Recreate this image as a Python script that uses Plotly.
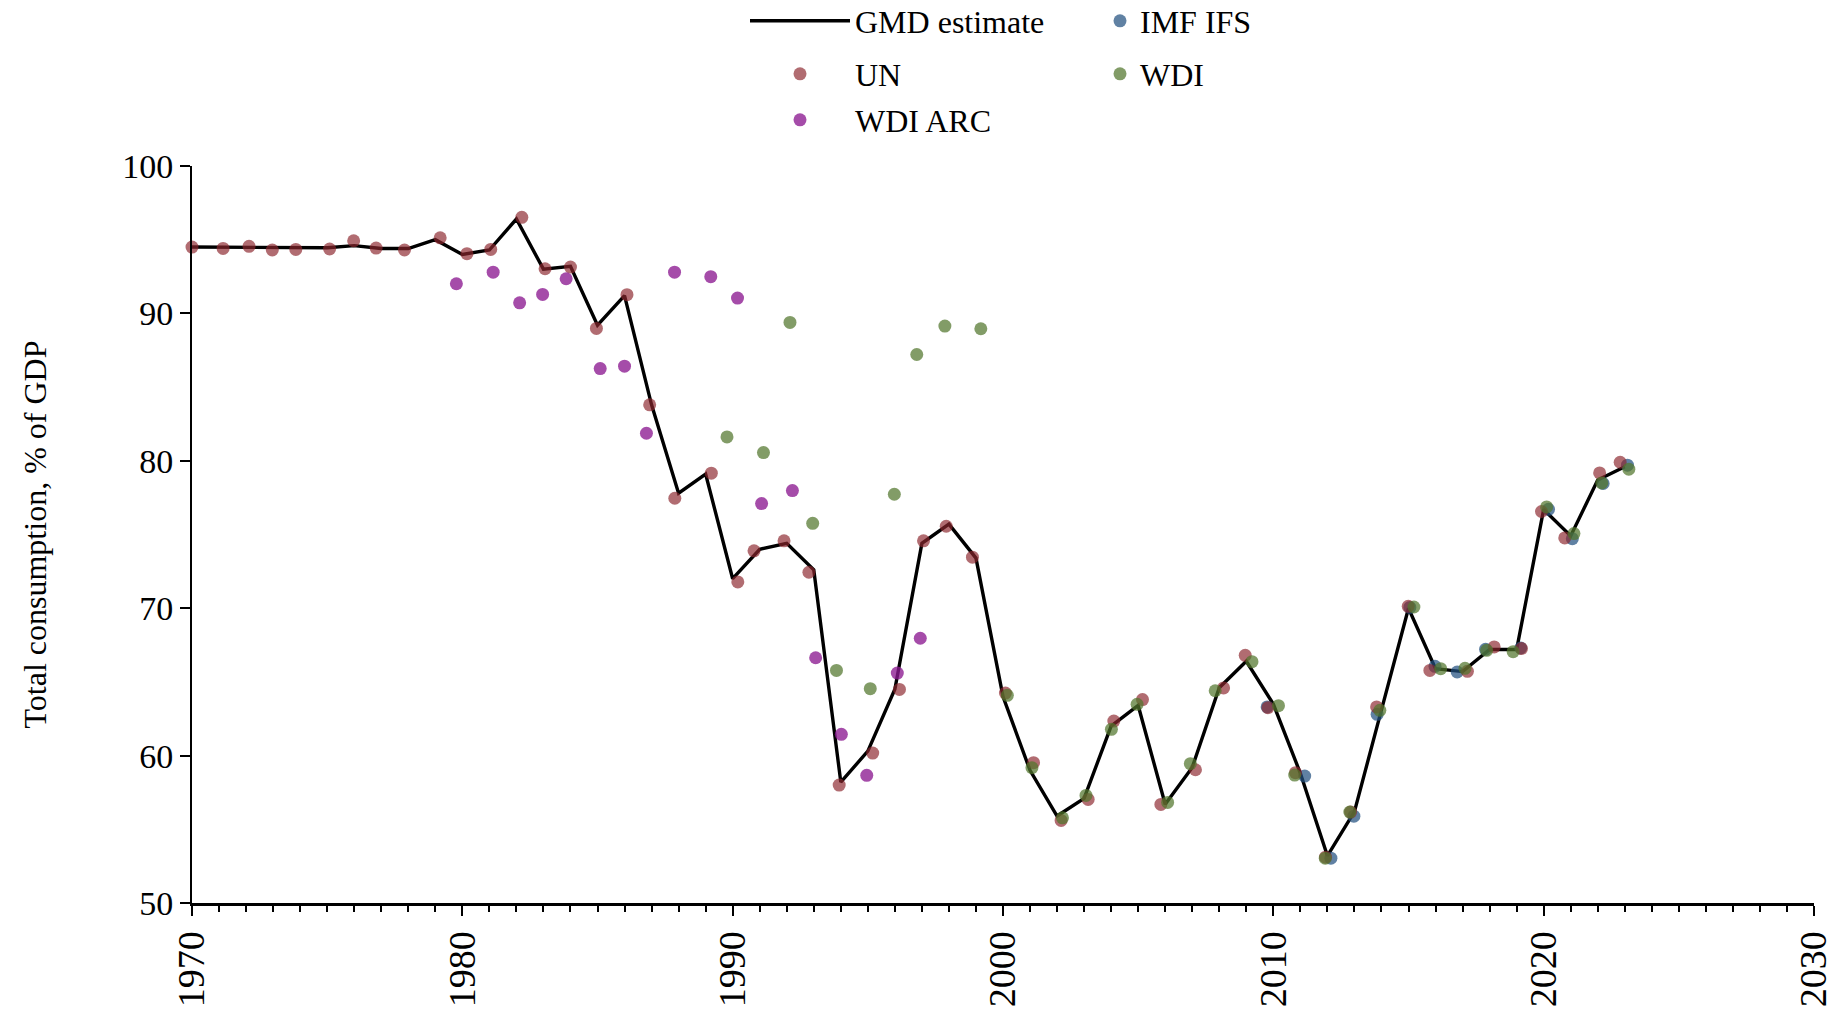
import plotly.graph_objects as go

# ---------------- data ----------------
gmd_years = [1970, 1971, 1972, 1973, 1974, 1975, 1976, 1977, 1978, 1979,
             1980, 1981, 1982, 1983, 1984, 1985, 1986, 1987, 1988, 1989,
             1990, 1991, 1992, 1993, 1994, 1995, 1996, 1997, 1998, 1999,
             2000, 2001, 2002, 2003, 2004, 2005, 2006, 2007, 2008, 2009,
             2010, 2011, 2012, 2013, 2014, 2015, 2016, 2017, 2018, 2019,
             2020, 2021, 2022, 2023]
gmd_values = [94.5, 94.5, 94.5, 94.45, 94.45, 94.45, 94.6, 94.4, 94.4, 95.0,
              94.0, 94.3, 96.4, 93.0, 93.2, 89.2, 91.2, 83.8, 77.8, 79.1,
              72.0, 74.0, 74.4, 72.6, 58.2, 60.3, 64.5, 74.4, 75.7, 73.4,
              64.0, 59.0, 55.9, 57.1, 62.0, 63.4, 56.7, 59.2, 64.6, 66.4,
              63.5, 58.8, 53.2, 56.2, 63.1, 70.0, 65.9, 65.7, 67.2, 67.2,
              76.7, 74.9, 78.7, 79.6]

imf_x = [2009.77, 2011.16, 2012.13, 2012.98, 2013.84, 2015.05, 2015.98,
         2016.80, 2017.85, 2019.15, 2020.18, 2021.06, 2022.20, 2023.10]
imf_y = [63.3, 58.61, 53.04, 55.89, 62.80, 70.05, 66.06,
         65.67, 67.21, 67.3, 76.71, 74.72, 78.46, 79.70]

un_x = [1970.0, 1971.15, 1972.11, 1972.97, 1973.84, 1975.09, 1975.98, 1976.81,
        1977.86, 1979.18, 1980.17, 1981.05, 1982.20, 1983.06, 1984.00, 1984.96,
        1986.09, 1986.93, 1987.86, 1989.21, 1990.19, 1990.79, 1991.90, 1992.82,
        1993.94, 1995.18, 1996.17, 1997.06, 1997.90, 1998.87, 2000.09, 2001.13,
        2002.15, 2003.15, 2004.10, 2005.16, 2005.84, 2007.12, 2008.16, 2008.96,
        2009.80, 2010.82, 2011.93, 2012.86, 2013.82, 2014.99, 2015.79, 2017.18,
        2018.17, 2019.18, 2019.92, 2020.78, 2022.07, 2022.83]
un_y = [94.50, 94.41, 94.55, 94.30, 94.34, 94.37, 94.93, 94.43,
        94.30, 95.13, 94.05, 94.34, 96.52, 93.03, 93.14, 88.98,
        91.27, 83.80, 77.46, 79.16, 71.78, 73.89, 74.57, 72.44,
        58.00, 60.17, 64.49, 74.57, 75.56, 73.46, 64.24, 59.52,
        55.60, 57.03, 62.34, 63.80, 56.69, 59.04, 64.59, 66.80,
        63.25, 58.84, 53.11, 56.17, 63.30, 70.13, 65.78, 65.72,
        67.37, 67.26, 76.56, 74.77, 79.18, 79.90]

wdi_x = [1989.79, 1991.14, 1992.12, 1992.96, 1993.84, 1995.09, 1995.98, 1996.81,
         1997.85, 1999.18, 2000.16, 2001.07, 2002.20, 2003.07, 2004.01, 2004.96,
         2006.09, 2006.93, 2007.85, 2009.21, 2010.19, 2010.79, 2011.92, 2012.83,
         2013.94, 2015.20, 2016.19, 2017.09, 2017.89, 2018.87, 2020.11, 2021.12,
         2022.15, 2023.15]
wdi_y = [81.62, 80.56, 89.39, 75.76, 65.78, 64.54, 77.73, 87.21,
         89.14, 88.96, 64.09, 59.18, 55.78, 57.30, 61.78, 63.48,
         56.82, 59.45, 64.40, 66.37, 63.39, 58.68, 53.04, 56.17,
         63.07, 70.08, 65.90, 65.92, 67.14, 67.05, 76.87, 75.06,
         78.50, 79.43]

arc_x = [1979.78, 1981.14, 1982.12, 1982.97, 1983.84, 1985.10, 1986.00, 1986.81,
         1987.85, 1989.19, 1990.18, 1991.07, 1992.21, 1993.07, 1994.02, 1994.96,
         1996.09, 1996.94]
arc_y = [92.01, 92.80, 90.72, 91.29, 92.35, 86.26, 86.42, 81.87,
         92.80, 92.49, 91.04, 77.10, 77.98, 66.64, 61.44, 58.66,
         65.60, 67.96]

x_ticks = [1970, 1980, 1990, 2000, 2010, 2020, 2030]
y_ticks = [50, 60, 70, 80, 90, 100]

FONT = "Liberation Serif, Times New Roman, serif"

C_IMF = "rgba(35,80,128,0.72)"
C_UN = "rgba(140,38,46,0.68)"
C_WDI = "rgba(82,118,44,0.72)"
C_ARC = "rgba(140,25,145,0.78)"

fig = go.Figure()

fig.add_trace(go.Scatter(x=gmd_years, y=gmd_values, mode="lines", name="GMD estimate",
                         line=dict(color="black", width=3.4), legend="legend"))
fig.add_trace(go.Scatter(x=imf_x, y=imf_y, mode="markers", name="IMF IFS",
                         marker=dict(color=C_IMF, size=13, line=dict(width=0)),
                         cliponaxis=False, legend="legend2"))
fig.add_trace(go.Scatter(x=un_x, y=un_y, mode="markers", name="UN",
                         marker=dict(color=C_UN, size=13, line=dict(width=0)),
                         cliponaxis=False, legend="legend3"))
fig.add_trace(go.Scatter(x=wdi_x, y=wdi_y, mode="markers", name="WDI",
                         marker=dict(color=C_WDI, size=13, line=dict(width=0)),
                         cliponaxis=False, legend="legend4"))
fig.add_trace(go.Scatter(x=arc_x, y=arc_y, mode="markers", name="WDI ARC",
                         marker=dict(color=C_ARC, size=13, line=dict(width=0)),
                         cliponaxis=False, legend="legend5"))

L, R, T, B = 192, 26, 166, 107
W, H = 1840, 1010
PW, PH = W - L - R, H - T - B


def leg(xpx, ypx, itemwidth):
    return dict(x=(xpx - L) / PW, y=(H - B - ypx) / PH, xref="paper", yref="paper",
                xanchor="left", yanchor="middle",
                orientation="v", bgcolor="rgba(0,0,0,0)", borderwidth=0,
                itemwidth=itemwidth, font=dict(family=FONT, size=32, color="black"),
                itemclick=False, itemdoubleclick=False)


fig.update_layout(
    width=W, height=H,
    margin=dict(l=L, r=R, t=T, b=B, pad=0, autoexpand=False),
    paper_bgcolor="white", plot_bgcolor="white",
    font=dict(family=FONT, color="black"),
    showlegend=True,
    legend=leg(745, 21, 100),
    legend2=leg(1100, 21, 30),
    legend3=leg(745, 74, 100),
    legend4=leg(1100, 74, 30),
    legend5=leg(745, 120, 100),
    xaxis=dict(range=[1970, 2030], tickmode="array", tickvals=x_ticks,
               ticktext=[str(v) for v in x_ticks], automargin=True,
               ticks="outside", ticklen=10, tickwidth=2, tickcolor="black",
               showline=True, linewidth=3, linecolor="black",
               minor=dict(dtick=1, tick0=1970, ticks="outside", ticklen=6, tickwidth=1.5,
                          tickcolor="black", showgrid=False),
               tickangle=-90, tickfont=dict(family=FONT, size=38, color="black"),
               showgrid=False, zeroline=False),
    yaxis=dict(range=[50, 100], tickmode="array", tickvals=y_ticks, automargin=True,
               ticks="outside", ticklen=10, tickwidth=2, tickcolor="black",
               showline=True, linewidth=2, linecolor="black",
               tickfont=dict(family=FONT, size=34, color="black"),
               title=dict(text="Total consumption, % of GDP",
                          font=dict(family=FONT, size=32, color="black"), standoff=66),
               showgrid=False, zeroline=False),
)

fig.write_html("out.html", config={"displayModeBar": False},
               post_script="document.body.style.margin='0';document.body.style.overflow='hidden';")
